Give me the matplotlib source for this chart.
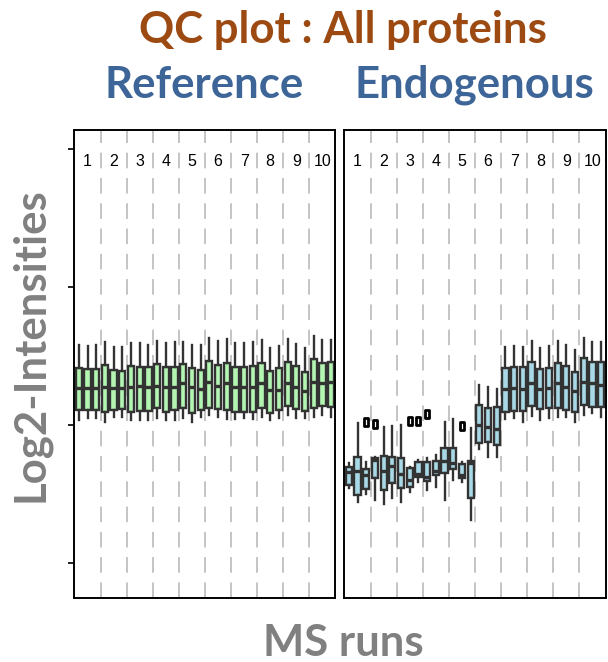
import matplotlib
matplotlib.use("Agg")
import matplotlib.pyplot as plt
from matplotlib.path import Path
from matplotlib.transforms import Affine2D

# per-box summaries (whisker high, q3, median, q1, whisker low), 3 boxes per MS run
ref_hi = [25.82, 25.77, 25.82, 26.06, 25.65, 25.65, 25.99, 25.94, 25.82, 26.11,
          25.94, 26.06, 26.06, 25.82, 25.82, 26.30, 26.11, 26.23, 25.94, 25.99,
          26.01, 26.18, 25.58, 25.75, 26.25, 25.89, 25.58, 26.47, 26.18, 26.18]
ref_q3 = [24.17, 24.08, 24.08, 24.37, 24.01, 23.96, 24.32, 24.25, 24.20, 24.42,
          24.20, 24.25, 24.44, 24.17, 24.01, 24.66, 24.37, 24.49, 24.25, 24.25,
          24.30, 24.54, 23.96, 24.13, 24.57, 24.30, 23.88, 24.78, 24.49, 24.59]
ref_med = [22.68, 22.68, 22.72, 22.80, 22.68, 22.68, 22.75, 22.85, 22.80, 22.87,
           22.75, 22.80, 23.04, 22.80, 22.61, 23.12, 22.85, 23.09, 22.80, 22.80,
           22.80, 23.04, 22.56, 22.56, 23.04, 22.80, 22.51, 23.16, 23.04, 23.12]
ref_q1 = [21.11, 21.11, 21.11, 20.99, 21.11, 21.16, 20.99, 21.06, 21.06, 21.23,
          20.99, 21.11, 21.23, 20.91, 21.11, 21.23, 21.16, 21.11, 20.99, 20.99,
          20.99, 21.23, 20.91, 21.11, 21.40, 21.16, 21.06, 21.23, 21.40, 21.30]
ref_lo = [20.38, 20.51, 20.51, 20.26, 20.62, 20.62, 20.38, 20.38, 20.38, 20.51,
          20.38, 20.38, 20.51, 20.26, 20.62, 20.75, 20.62, 20.43, 20.43, 20.51,
          20.43, 20.62, 20.38, 20.51, 20.75, 20.51, 20.51, 20.62, 20.75, 20.62]

endo_hi = [17.25, 20.14, 17.36, 17.70, 19.90, 19.97, 20.02, 17.00, 17.49, 17.61,
           17.85, 20.26, 20.46, 17.36, 19.83, 22.92, 22.80, 22.61, 25.65, 25.75,
           25.70, 26.11, 25.58, 25.75, 26.13, 25.82, 25.46, 26.30, 26.06, 26.06]
endo_q3 = [17.00, 17.72, 16.81, 17.61, 17.80, 17.68, 17.61, 16.88, 17.32, 17.32,
           17.41, 18.33, 18.33, 17.17, 17.41, 21.47, 21.23, 21.30, 24.13, 24.25,
           24.20, 24.61, 24.06, 24.17, 24.54, 24.30, 23.88, 24.86, 24.57, 24.57]
endo_med = [16.64, 16.71, 16.40, 17.49, 16.69, 17.05, 16.47, 16.04, 16.47, 16.28,
            16.71, 17.41, 17.25, 16.40, 17.29, 20.02, 19.86, 19.73, 22.63, 22.68,
            22.63, 23.04, 22.63, 22.68, 23.04, 22.75, 22.49, 23.16, 23.04, 22.92]
endo_q1 = [15.67, 14.95, 15.36, 16.16, 15.31, 15.80, 15.43, 15.51, 16.23, 15.99,
           16.40, 16.57, 16.83, 16.16, 14.75, 18.70, 18.81, 18.57, 20.99, 21.06,
           21.06, 21.40, 21.16, 21.23, 21.23, 21.11, 20.99, 21.47, 21.30, 21.30]
endo_lo = [15.43, 14.46, 15.00, 14.59, 14.30, 14.71, 14.46, 15.19, 15.91, 15.31,
           15.51, 14.59, 16.04, 15.91, 13.14, 18.26, 17.72, 17.72, 20.43, 20.51,
           20.26, 20.67, 20.38, 20.51, 20.62, 20.62, 20.26, 20.75, 20.87, 20.62]
# outliers: box index (1-based) -> value
endo_out_box = [3, 4, 8, 9, 10, 14]
endo_out_val = [20.26, 20.07, 20.31, 20.31, 20.80, 19.97]

runs = [str(i) for i in range(1, 11)]
per_run = 3


def make_stats(hi, q3, med, q1, lo, out_box=(), out_val=()):
    stats = []
    for i in range(len(med)):
        fl = [v for b, v in zip(out_box, out_val) if b == i + 1]
        stats.append(dict(whishi=hi[i], q3=q3[i], med=med[i], q1=q1[i],
                          whislo=lo[i], fliers=fl))
    return stats


# narrow upright marker for outliers
outlier_marker = Affine2D().scale(0.55, 1.0).transform_path(Path.unit_rectangle())
outlier_marker = Affine2D().translate(-0.275, -0.5).transform_path(outlier_marker)


def draw_panel(ax, stats, fill):
    n = len(stats)
    for k in range(1, len(runs)):
        ax.axvline(k * per_run + 0.5, color="#c4c4c4", lw=1.4,
                   dashes=(8, 5), zorder=0)
    ax.bxp(stats, positions=range(1, n + 1), widths=0.72, patch_artist=True,
           showcaps=False,
           boxprops=dict(facecolor=fill, edgecolor="#333333", linewidth=1.7),
           medianprops=dict(color="#333333", linewidth=2.4),
           whiskerprops=dict(color="#333333", linewidth=1.7),
           flierprops=dict(marker=outlier_marker, markersize=6,
                           markerfacecolor="white", markeredgecolor="black",
                           markeredgewidth=2.0),
           manage_ticks=False, zorder=2)
    for k, lab in enumerate(runs):
        ax.text(k * per_run + 2, 39.1, lab, ha="center", va="center",
                fontsize=11.5, family="Liberation Sans", zorder=3)
    ax.set_xlim(0.5, n + 0.5)
    ax.set_ylim(7.52, 41.4)
    ax.set_xticks([])
    for s in ax.spines.values():
        s.set_linewidth(1.4)
        s.set_color("black")


fig = plt.figure(figsize=(6.08, 6.62), dpi=100)
ax1 = fig.add_axes([0.1225, 0.0974, 0.4293, 0.7062])
ax2 = fig.add_axes([0.5666, 0.0974, 0.4293, 0.7062])

draw_panel(ax1, make_stats(ref_hi, ref_q3, ref_med, ref_q1, ref_lo), "#b4f5b2")
draw_panel(ax2, make_stats(endo_hi, endo_q3, endo_med, endo_q1, endo_lo,
                           endo_out_box, endo_out_val), "#a9d9e6")

ax1.set_yticks([10, 20, 30, 40])
ax1.set_yticklabels([])
ax1.tick_params(axis="y", length=4, width=1.4, color="#222222")
ax2.set_yticks([])

title_font = dict(family="Lato", weight="bold", fontsize=31.5)
fig.text(0.564, 0.955, "QC plot : All proteins", ha="center", va="center",
         color="#9c4a12", **title_font)
fig.text(0.336, 0.872, "Reference", ha="center", va="center",
         color="#3d6597", **title_font)
fig.text(0.780, 0.872, "Endogenous", ha="center", va="center",
         color="#3d6597", **title_font)
fig.text(0.049, 0.479, "Log2-Intensities", ha="center", va="center",
         rotation=90, color="#808080", **title_font)
fig.text(0.564, 0.029, "MS runs", ha="center", va="center",
         color="#808080", **title_font)

fig.savefig("out.png", dpi=100)
plt.close(fig)
